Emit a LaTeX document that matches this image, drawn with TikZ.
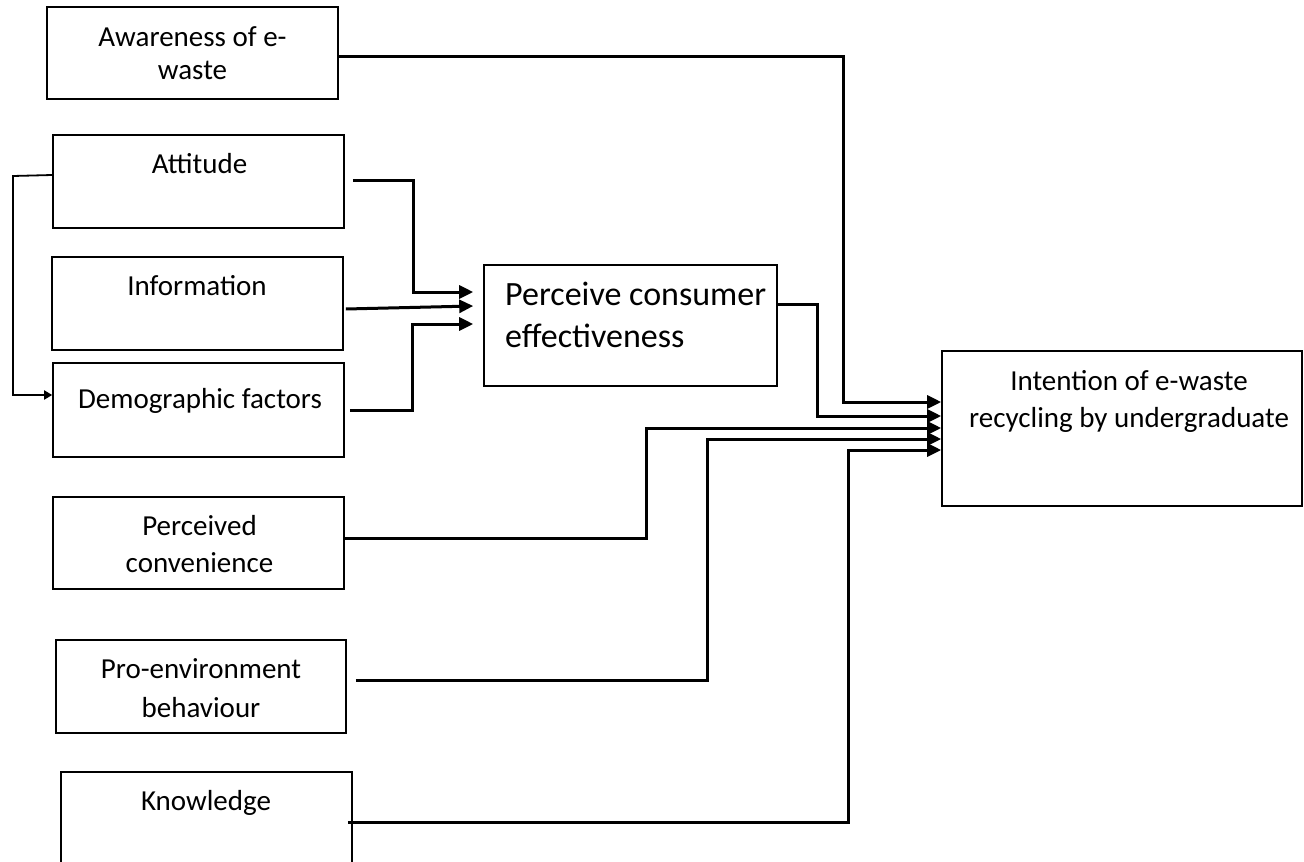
\documentclass[tikz,border=0pt]{standalone}
\usepackage{fontspec}
\setmainfont{Carlito}
\usepackage{tikz}
\usetikzlibrary{arrows.meta, calc}
\tikzset{
  box/.style={rectangle, draw=black, line width=1.6pt, inner sep=0pt},
  txt/.style={anchor=base, align=center, inner sep=0pt,
    font=\fontsize{29}{33}\selectfont},
  conn/.style={-{Triangle[length=14pt,width=13pt]}, line width=3pt},
  thinconn/.style={-{Triangle[length=8pt,width=9pt]}, line width=1.8pt}
}

\begin{document}
\begin{tikzpicture}[x=1pt, y=-1pt]
  \useasboundingbox (0,0) rectangle (1304,862);

  % Factors on the left
  \node[box, minimum width=291pt, minimum height=92pt] (aware) at (192.5,53) {};
  \node[txt] (awaretxt) at (192.5,79) {Awareness of e-\\waste};
  \node[box, minimum width=291pt, minimum height=93pt] (att) at (198.5,181.5) {};
  \node[txt] (atttxt) at (199.5,173) {Attitude};
  \node[box, minimum width=291pt, minimum height=93pt] (info) at (197.5,303.5) {};
  \node[txt] (infotxt) at (197,295) {Information};
  \node[box, minimum width=291pt, minimum height=94pt] (demo) at (198.5,410) {};
  \node[txt] (demotxt) at (200,408) {Demographic factors};
  \node[box, minimum width=291pt, minimum height=92pt] (conv) at (198.5,543) {};
  \node[txt, font=\fontsize{29}{37}\selectfont] (convtxt) at (199.5,572) {Perceived\\convenience};
  \node[box, minimum width=290pt, minimum height=93pt] (proenv) at (201,686.5) {};
  \node[txt, font=\fontsize{29}{39}\selectfont] (proenvtxt) at (201,717) {Pro-environment\\behaviour};
  \node[box, minimum width=291pt, minimum height=96pt] (know) at (206.5,820) {};
  \node[txt] (knowtxt) at (206,810) {Knowledge};

  % Mediator and outcome
  \node[box, minimum width=293pt, minimum height=121pt] (perc) at (630.5,325.5) {};
  \node[txt, anchor=base west, align=left, font=\fontsize{34}{42}\selectfont] (perctxt) at (505,347) {Perceive consumer\\effectiveness};
  \node[box, minimum width=360pt, minimum height=155pt] (intent) at (1122,428.5) {};
  \node[txt, font=\fontsize{29}{37}\selectfont] (intenttxt) at (1129,427) {Intention of e-waste\\recycling by undergraduate};

  % Into the mediator
  \draw[conn] ([xshift=8pt,yshift=1.5pt]att.east) -| (413,292) -- ([xshift=-10pt,yshift=33.5pt]perc.west);
  \draw[conn] ([xshift=2pt,yshift=-5.5pt]info.east) -- ([xshift=-10pt,yshift=19.5pt]perc.west);
  \draw[conn] ([xshift=5pt]demo.east) -| (412,324) -- ([xshift=-10pt,yshift=1.5pt]perc.west);
  \draw[thinconn] ([yshift=6.5pt]att.west) -- (13,176) -- (13,395) -- ([yshift=15pt]demo.west);

  % Into the outcome
  \draw[conn] ([yshift=-3pt]aware.east) -| (843,402) -- ([yshift=26.5pt]intent.west);
  \draw[conn] ([yshift=21.5pt]perc.east) -| (817,416) -- ([yshift=12.5pt]intent.west);
  \draw[conn] ([yshift=5pt]conv.east) -| (646,428) -- ([yshift=0.5pt]intent.west);
  \draw[conn] ([xshift=9pt,yshift=6.5pt]proenv.east) -| (707,439) -- ([yshift=-10.5pt]intent.west);
  \draw[conn] ([xshift=-5pt,yshift=-2pt]know.east) -| (848,450) -- ([yshift=-21.5pt]intent.west);
\end{tikzpicture}
\end{document}
